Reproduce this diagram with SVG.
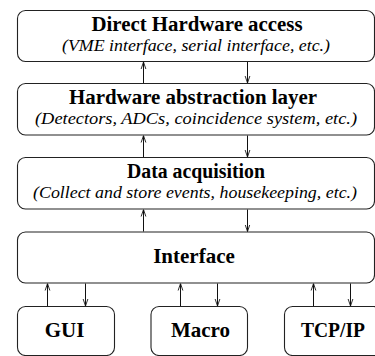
<svg xmlns="http://www.w3.org/2000/svg" width="375" height="356" viewBox="0 0 375 356">
<defs>
<marker id="ah" viewBox="0 0 8 8" refX="8" refY="4" markerWidth="7" markerHeight="7" markerUnits="userSpaceOnUse" orient="auto">
<path d="M0,1.3 L8,4 L0,6.7" fill="none" stroke="#111" stroke-width="1"/>
</marker>
</defs>
<style>
.box{fill:#fff;stroke:#222;stroke-width:1.1}
.t{font-family:'Liberation Serif','Times New Roman',Times,serif;font-weight:700;font-size:20px;fill:#000;text-anchor:middle}
.b{font-family:'Liberation Serif','Times New Roman',Times,serif;font-weight:700;font-size:21px;fill:#000;text-anchor:middle}
.s{font-family:'Liberation Serif','Times New Roman',Times,serif;font-style:italic;font-size:17px;fill:#000;text-anchor:middle}
.c{stroke:#111;stroke-width:1;fill:none;marker-end:url(#ah)}
</style>
<rect width="375" height="356" fill="#fff"/>
<g id="direct-hw">
<rect class="box" x="17.5" y="10.5" width="357" height="51" rx="8"/>
<text class="t" x="197" y="30.5" textLength="211" lengthAdjust="spacingAndGlyphs">Direct Hardware access</text>
<text class="s" x="196" y="50.5" textLength="268" lengthAdjust="spacingAndGlyphs">(VME interface, serial interface, etc.)</text>
</g>
<g id="hal">
<rect class="box" x="17.5" y="83.5" width="357" height="51.5" rx="8"/>
<text class="t" x="193" y="103.5" textLength="248" lengthAdjust="spacingAndGlyphs">Hardware abstraction layer</text>
<text class="s" x="196" y="123.5" textLength="322" lengthAdjust="spacingAndGlyphs">(Detectors, ADCs, coincidence system, etc.)</text>
</g>
<g id="daq">
<rect class="box" x="17.5" y="157.5" width="357" height="51.5" rx="8"/>
<text class="t" x="196" y="177.5" textLength="138" lengthAdjust="spacingAndGlyphs">Data acquisition</text>
<text class="s" x="195" y="197.5" textLength="324" lengthAdjust="spacingAndGlyphs">(Collect and store events, housekeeping, etc.)</text>
</g>
<g id="interface">
<rect class="box" x="17.5" y="232" width="357" height="51" rx="8"/>
<text class="b" x="194" y="263">Interface</text>
</g>
<g id="gui">
<rect class="box" x="17.5" y="306.5" width="97" height="49" rx="8"/>
<text class="b" x="64.5" y="337">GUI</text>
</g>
<g id="macro">
<rect class="box" x="151" y="306.5" width="96.5" height="49" rx="8"/>
<text class="b" x="200.5" y="337">Macro</text>
</g>
<g id="tcpip">
<rect class="box" x="284.5" y="306.5" width="97" height="49" rx="8"/>
<text class="b" x="333" y="337" textLength="64" lengthAdjust="spacingAndGlyphs">TCP/IP</text>
</g>
<g id="connectors">
<line class="c" x1="143.5" y1="83" x2="143.5" y2="62"/>
<line class="c" x1="247.5" y1="62" x2="247.5" y2="83"/>
<line class="c" x1="143.5" y1="157" x2="143.5" y2="135.5"/>
<line class="c" x1="247.5" y1="135.5" x2="247.5" y2="157"/>
<line class="c" x1="143.5" y1="231.5" x2="143.5" y2="209.5"/>
<line class="c" x1="247.5" y1="209.5" x2="247.5" y2="231.5"/>
<line class="c" x1="47.5" y1="306" x2="47.5" y2="283.5"/>
<line class="c" x1="85.5" y1="283.5" x2="85.5" y2="306"/>
<line class="c" x1="180.5" y1="306" x2="180.5" y2="283.5"/>
<line class="c" x1="217.5" y1="283.5" x2="217.5" y2="306"/>
<line class="c" x1="313.5" y1="306" x2="313.5" y2="283.5"/>
<line class="c" x1="350.5" y1="283.5" x2="350.5" y2="306"/>
</g>
</svg>
